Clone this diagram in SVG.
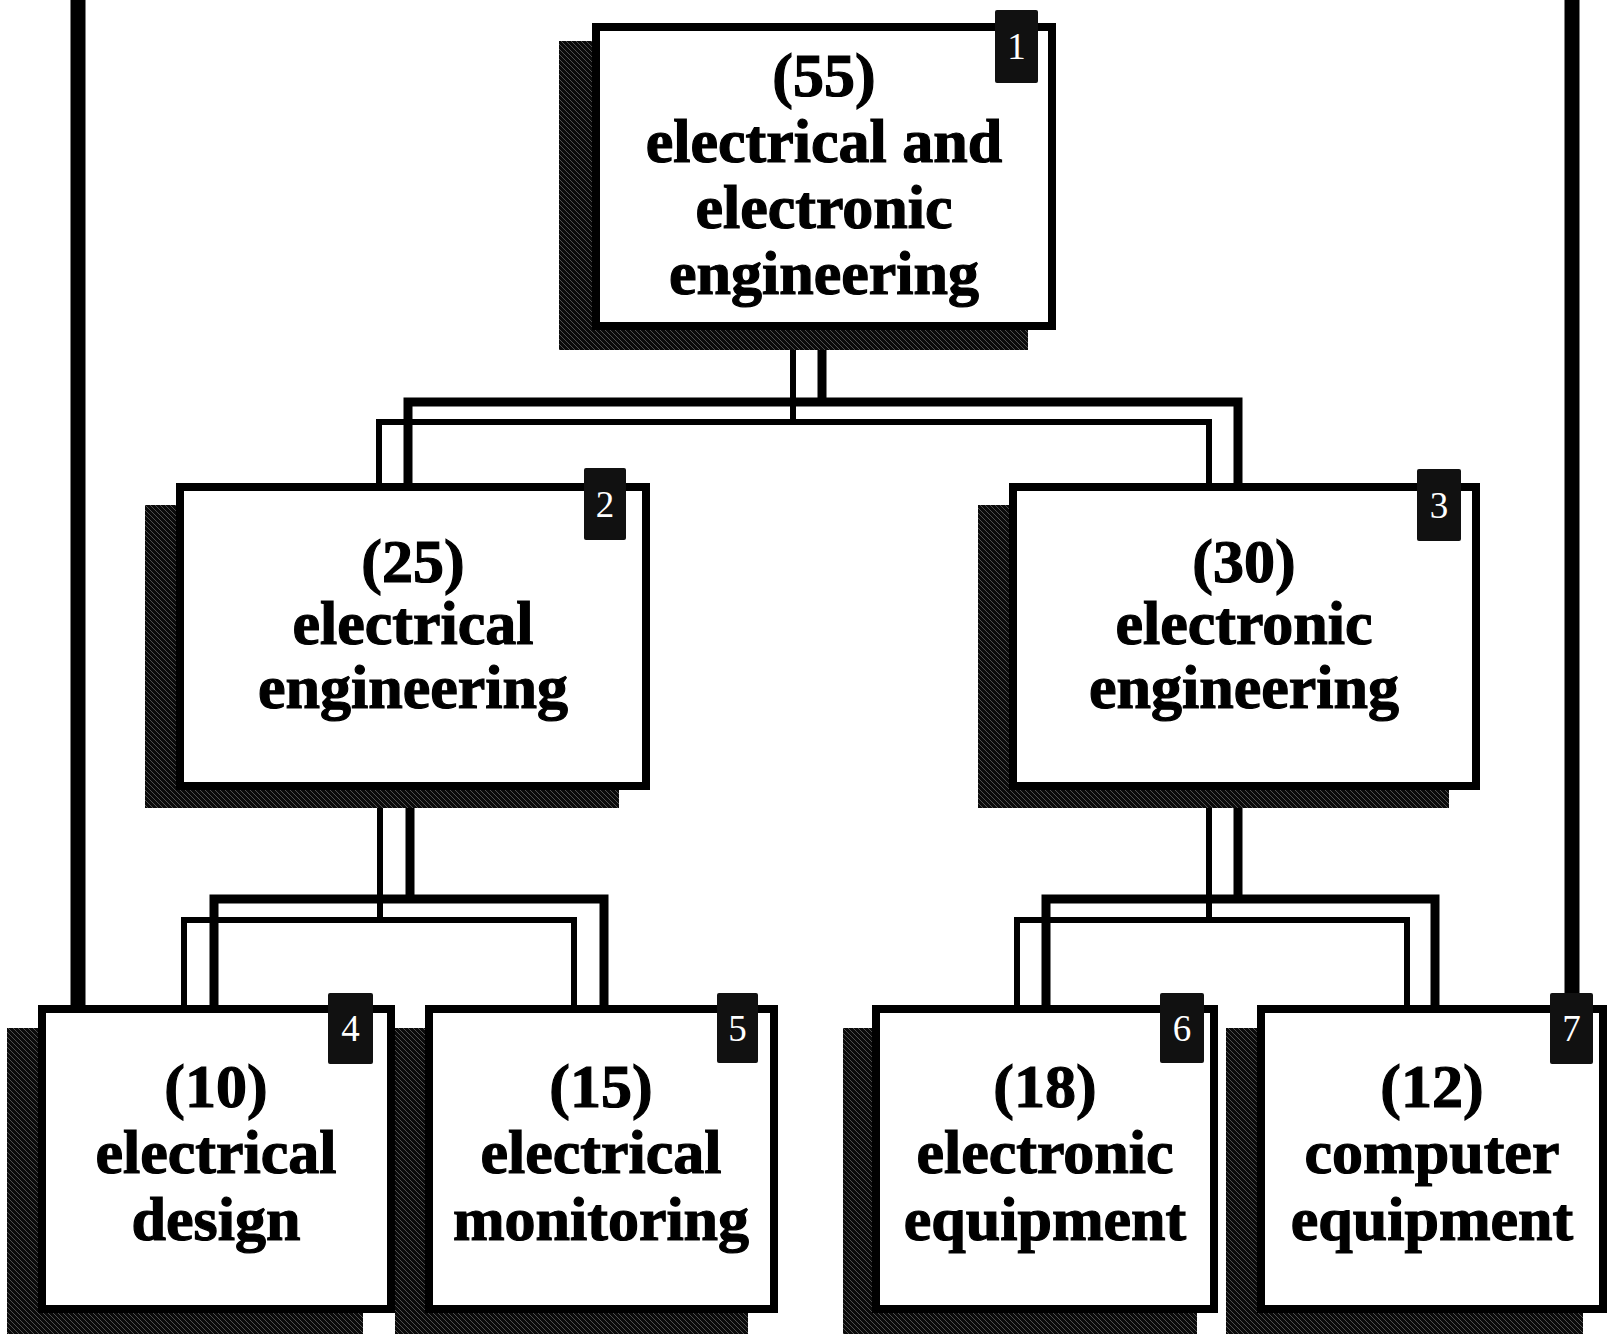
<svg xmlns="http://www.w3.org/2000/svg" width="1620" height="1334" viewBox="0 0 1620 1334">
  <defs>
    <pattern id="hatch" patternUnits="userSpaceOnUse" width="5" height="5">
      <rect width="5" height="5" fill="#0b0b0b"/>
      <path d="M0,0 L5,5" stroke="#6e6e6e" stroke-width="0.7"/>
    </pattern>
  </defs>
  <style>
    .shadow { fill: url(#hatch); }
    .box { fill: #ffffff; stroke: #000000; stroke-width: 8; }
    .badge { fill: #111111; }
    .num { font-family: "Liberation Serif", "DejaVu Serif", serif; font-size: 37px; fill: #ffffff; text-anchor: middle; }
    .lbl { font-family: "Liberation Serif", "DejaVu Serif", serif; font-weight: bold; font-size: 62px; fill: #000000; stroke: #000000; stroke-width: 1.2; text-anchor: middle; }
    .thick { fill: none; stroke: #000000; stroke-width: 9; stroke-linejoin: miter; }
    .thin { fill: none; stroke: #000000; stroke-width: 6; stroke-linejoin: miter; }
    .outer { fill: none; stroke: #000000; stroke-width: 15; }
  </style>
  <rect width="1620" height="1334" fill="#ffffff"/>

  <g id="connectors">
    <path class="outer" d="M78,0 V1006"/>
    <path class="outer" d="M1572,0 V995"/>
    <!-- 1 to 2,3 -->
    <path class="thick" d="M822,330 V402 M408,485 V402 H1238 V485"/>
    <path class="thin" d="M793,330 V422 M379,485 V422 H1209 V485"/>
    <!-- 2 to 4,5 -->
    <path class="thick" d="M410,790 V899 M214,1007 V899 H604 V1007"/>
    <path class="thin" d="M380,790 V920 M184,1007 V920 H574 V1007"/>
    <!-- 3 to 6,7 -->
    <path class="thick" d="M1238,790 V899 M1046,1007 V899 H1435 V1007"/>
    <path class="thin" d="M1209,790 V920 M1017,1007 V920 H1407 V1007"/>
  </g>

  <g id="node1">
    <rect class="shadow" x="559" y="41" width="469" height="309"/>
    <rect class="box" x="596" y="27" width="456" height="299"/>
    <rect class="badge" x="995" y="10" width="43" height="73" rx="2"/>
    <text class="num" x="1016.5" y="59">1</text>
    <text class="lbl" x="824" y="96">(55)</text>
    <text class="lbl" x="824" y="162">electrical and</text>
    <text class="lbl" x="824" y="228">electronic</text>
    <text class="lbl" x="824" y="294">engineering</text>
  </g>

  <g id="node2">
    <rect class="shadow" x="145" y="505" width="474" height="303"/>
    <rect class="box" x="180" y="487" width="466" height="299"/>
    <rect class="badge" x="584" y="468" width="42" height="72" rx="2"/>
    <text class="num" x="605" y="517">2</text>
    <text class="lbl" x="413" y="582">(25)</text>
    <text class="lbl" x="413" y="644">electrical</text>
    <text class="lbl" x="413" y="708">engineering</text>
  </g>

  <g id="node3">
    <rect class="shadow" x="978" y="505" width="471" height="303"/>
    <rect class="box" x="1013" y="487" width="463" height="299"/>
    <rect class="badge" x="1417" y="469" width="44" height="72" rx="2"/>
    <text class="num" x="1439" y="518">3</text>
    <text class="lbl" x="1244" y="582">(30)</text>
    <text class="lbl" x="1244" y="644">electronic</text>
    <text class="lbl" x="1244" y="708">engineering</text>
  </g>

  <g id="node4">
    <rect class="shadow" x="7" y="1028" width="356" height="306"/>
    <rect class="box" x="42" y="1009" width="349" height="300"/>
    <rect class="badge" x="328" y="993" width="45" height="71" rx="2"/>
    <text class="num" x="350.5" y="1041">4</text>
    <text class="lbl" x="216" y="1107">(10)</text>
    <text class="lbl" x="216" y="1173">electrical</text>
    <text class="lbl" x="216" y="1240">design</text>
  </g>

  <g id="node5">
    <rect class="shadow" x="395" y="1028" width="353" height="306"/>
    <rect class="box" x="429" y="1009" width="345" height="300"/>
    <rect class="badge" x="717" y="993" width="41" height="70" rx="2"/>
    <text class="num" x="737.5" y="1041">5</text>
    <text class="lbl" x="601" y="1107">(15)</text>
    <text class="lbl" x="601" y="1173">electrical</text>
    <text class="lbl" x="601" y="1240">monitoring</text>
  </g>

  <g id="node6">
    <rect class="shadow" x="843" y="1028" width="354" height="306"/>
    <rect class="box" x="876" y="1009" width="338" height="300"/>
    <rect class="badge" x="1160" y="993" width="44" height="70" rx="2"/>
    <text class="num" x="1182" y="1041">6</text>
    <text class="lbl" x="1045" y="1107">(18)</text>
    <text class="lbl" x="1045" y="1173">electronic</text>
    <text class="lbl" x="1045" y="1240">equipment</text>
  </g>

  <g id="node7">
    <rect class="shadow" x="1226" y="1028" width="357" height="306"/>
    <rect class="box" x="1261" y="1009" width="342" height="300"/>
    <rect class="badge" x="1550" y="993" width="43" height="71" rx="2"/>
    <text class="num" x="1571.5" y="1041">7</text>
    <text class="lbl" x="1432" y="1107">(12)</text>
    <text class="lbl" x="1432" y="1173">computer</text>
    <text class="lbl" x="1432" y="1240">equipment</text>
  </g>
</svg>
